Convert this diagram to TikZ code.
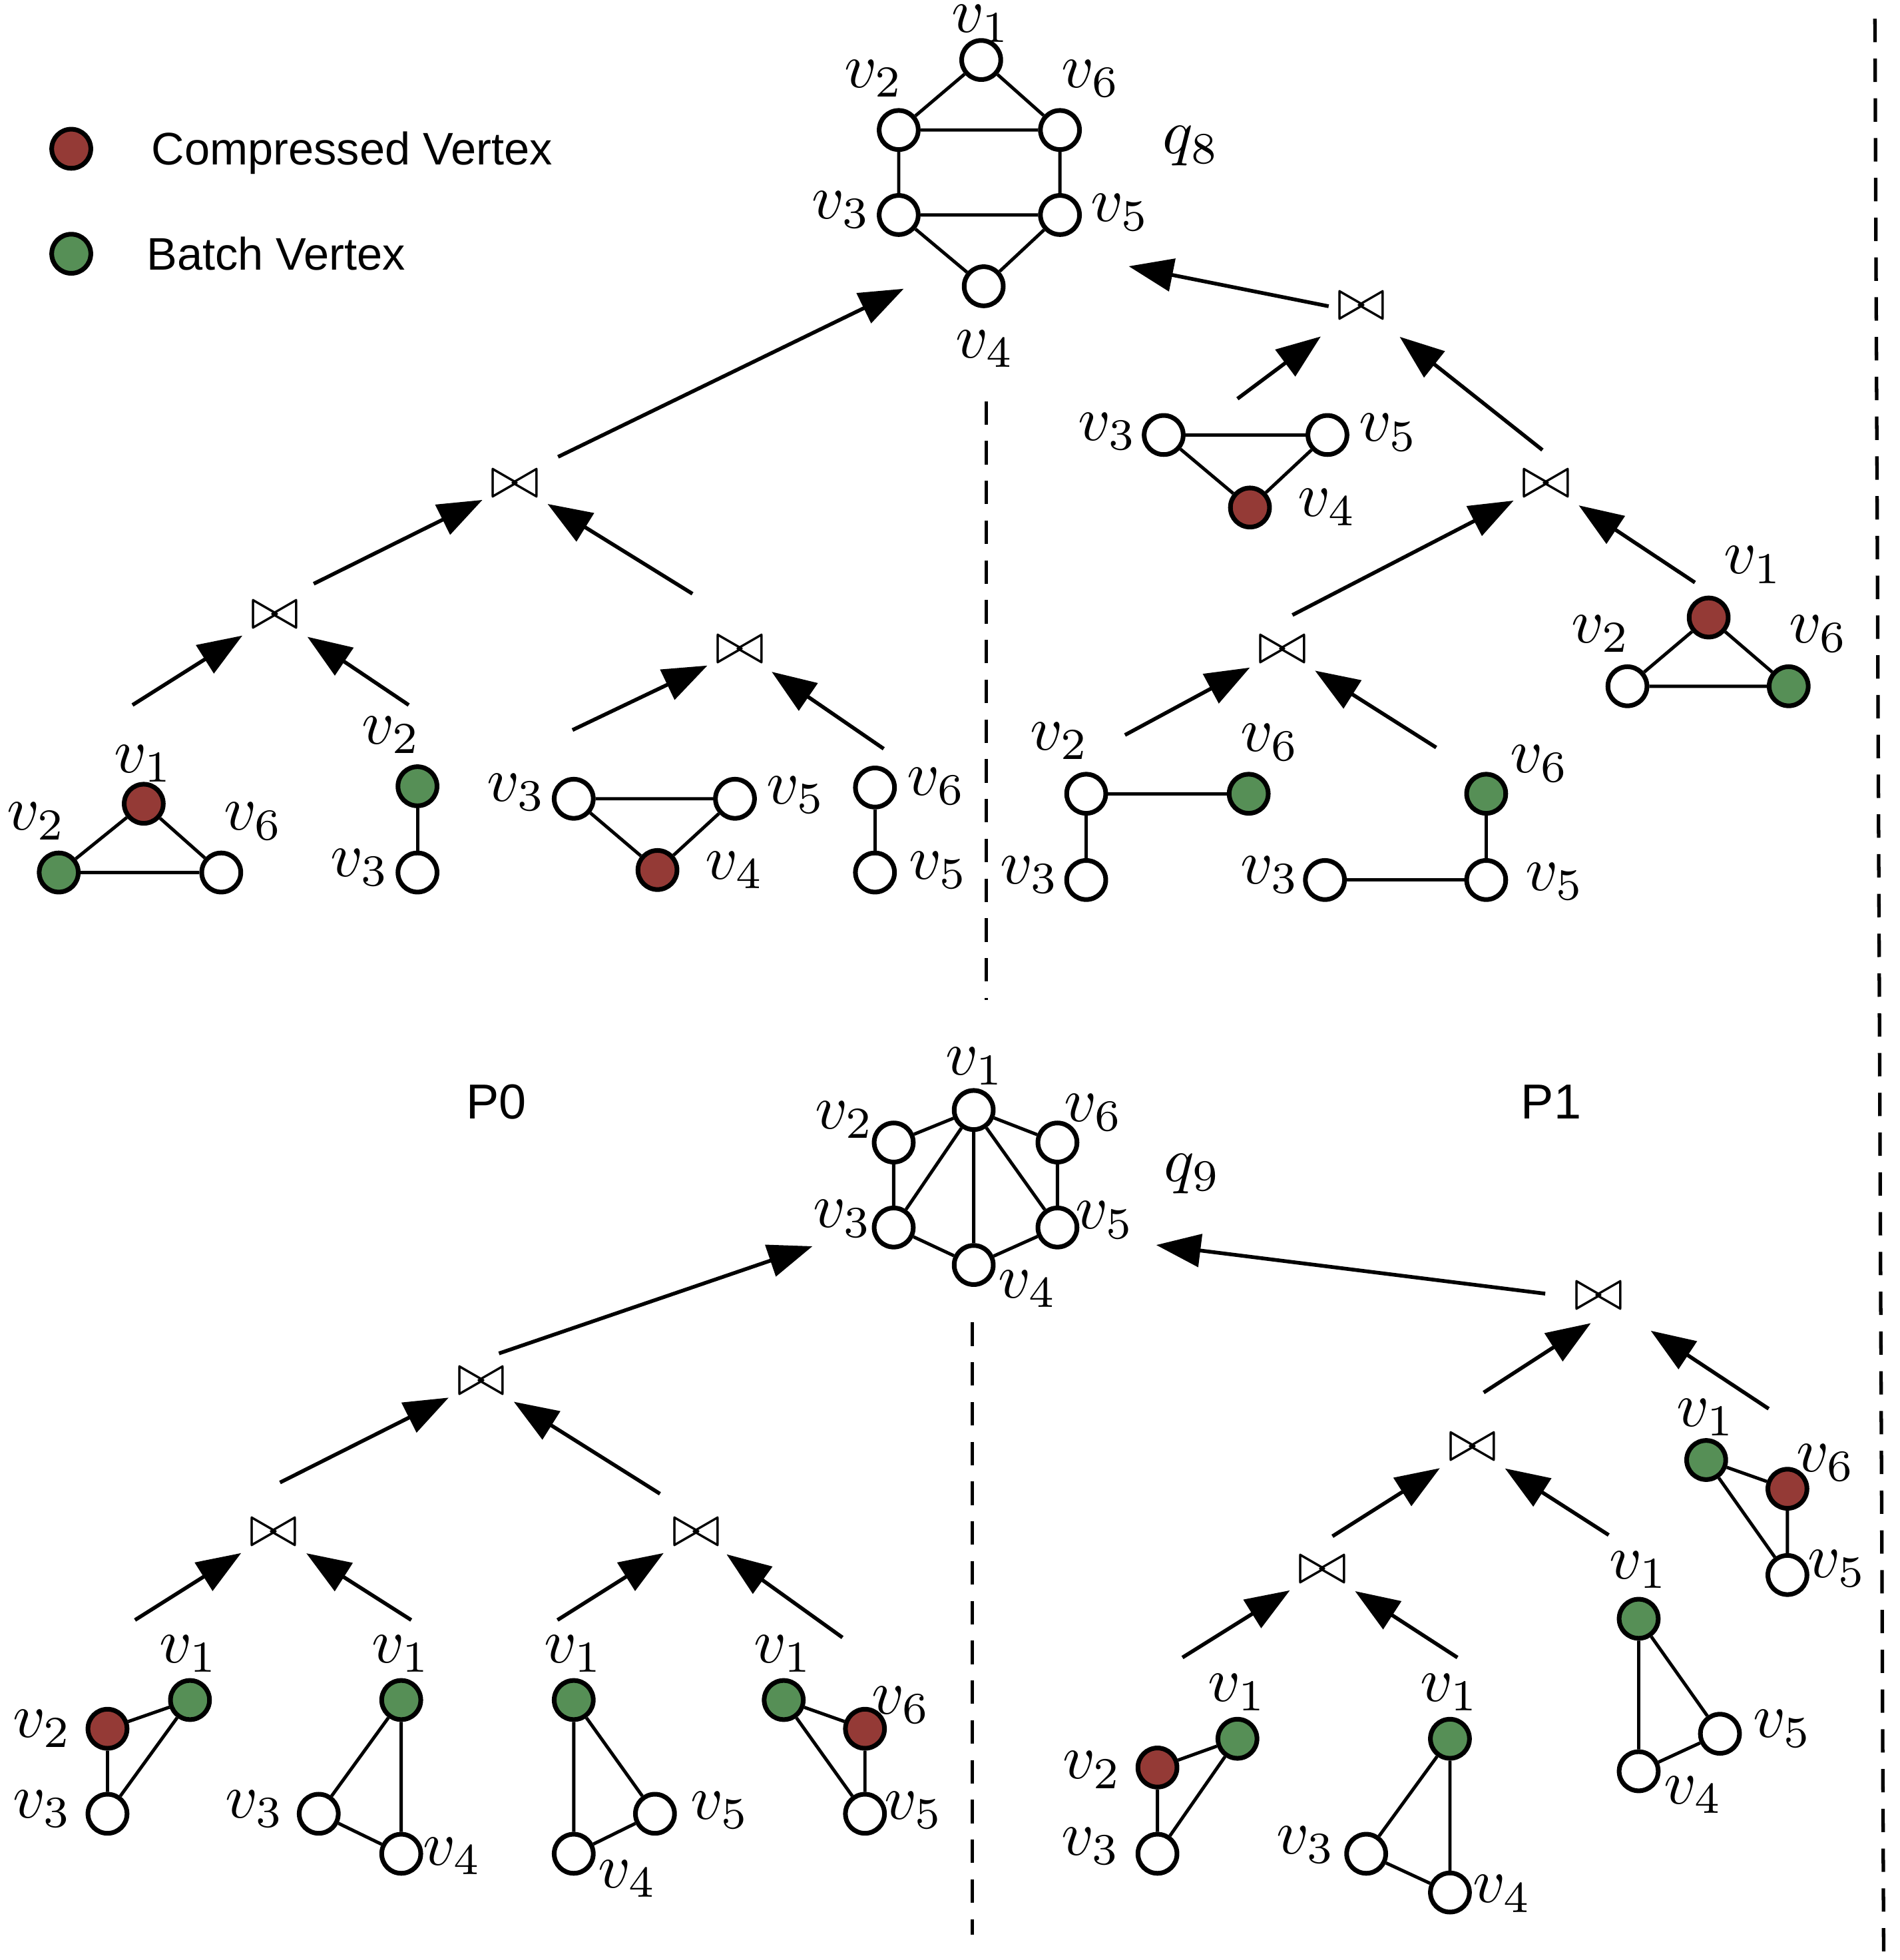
\documentclass[tikz,border=0pt]{standalone}
\usepackage[no-math]{fontspec}
\newfontfamily\legendfont{Liberation Sans}
\usetikzlibrary{arrows.meta}
\definecolor{compred}{RGB}{148,58,54}
\definecolor{batchgreen}{RGB}{86,143,86}
\tikzset{
  vtx/.style={draw, circle, line width=2pt, minimum size=16.7pt, inner sep=0pt, fill=white},
  cvtx/.style={vtx, fill=compred},
  bvtx/.style={vtx, fill=batchgreen},
  vlab/.style={scale=2.7, inner sep=0pt},
  joinop/.style={scale=2.5, inner sep=1.2pt},
  link/.style={line width=1.4pt},
  arr/.style={-{Triangle[length=19pt,width=14pt]}, line width=1.6pt},
  divider/.style={line width=1.5pt, dash pattern=on 10pt off 7pt},
  legtext/.style={font=\legendfont\fontsize{19.5}{23}\selectfont, inner sep=0pt}
}
\begin{document}
\begin{tikzpicture}[x=0.18776mm, y=-0.18776mm]
        \useasboundingbox (0,0) rectangle (1520,1568);

        % Legend
        \node[cvtx] (legcomp) at (57,119) {};
        \node[legtext, anchor=base west] (legcomptext) at (121,132) {Compressed Vertex};
        \node[bvtx] (legbatch) at (57,203) {};
        \node[legtext, anchor=base west] (legbatchtext) at (117,216) {Batch Vertex};

        % Partitions
        \node[legtext, font=\legendfont\fontsize{21}{25}\selectfont, anchor=base] (p0) at (397,895) {P0};
        \node[legtext, font=\legendfont\fontsize{21}{25}\selectfont, anchor=base] (p1) at (1241,895) {P1};
        \draw[divider] (789,321) -- (789,800);
        \draw[divider] (778,1058) -- (778,1548);
        \draw[divider] (1500,15) -- (1507,1562);

        % Query q8
        \node[vtx] (q8v1) at (785,48) {};
        \node[vtx] (q8v2) at (719,104) {};
        \node[vtx] (q8v6) at (848,104) {};
        \node[vtx] (q8v3) at (719,172) {};
        \node[vtx] (q8v5) at (848,172) {};
        \node[vtx] (q8v4) at (787,229) {};
        \node[vlab] (q8l1) at (785,19) {$v_1$};
        \node[vlab] (q8l2) at (699,63) {$v_2$};
        \node[vlab] (q8l6) at (873,63) {$v_6$};
        \node[vlab] (q8l3) at (673,168) {$v_3$};
        \node[vlab] (q8l5) at (896,170) {$v_5$};
        \node[vlab] (q8l4) at (788,279) {$v_4$};
        \node[vlab] (q8lab) at (953,117) {$q_8$};
        \draw[link] (q8v1) -- (q8v2) (q8v1) -- (q8v6) (q8v2) -- (q8v6) (q8v2) -- (q8v3)
                    (q8v6) -- (q8v5) (q8v3) -- (q8v5) (q8v3) -- (q8v4) (q8v5) -- (q8v4);
        \coordinate (q8inleft) at (723,231);
        \coordinate (q8inright) at (903,213);

        % q8, P0 subgraphs
        \node[cvtx] (g1v1) at (115,643) {};
        \node[bvtx] (g1v2) at (47,698) {};
        \node[vtx] (g1v6) at (177,698) {};
        \node[vlab] (g1l1) at (115,611) {$v_1$};
        \node[vlab] (g1l2) at (29,657) {$v_2$};
        \node[vlab] (g1l6) at (203,657) {$v_6$};
        \draw[link] (g1v1) -- (g1v2) (g1v1) -- (g1v6) (g1v2) -- (g1v6);

        \node[bvtx] (g2v2) at (334,629) {};
        \node[vtx] (g2v3) at (334,698) {};
        \node[vlab] (g2l2) at (313,588) {$v_2$};
        \node[vlab] (g2l3) at (288,694) {$v_3$};
        \draw[link] (g2v2) -- (g2v3);

        \node[vtx] (g3v3) at (459,639) {};
        \node[vtx] (g3v5) at (588,639) {};
        \node[cvtx] (g3v4) at (526,696) {};
        \node[vlab] (g3l3) at (413,634) {$v_3$};
        \node[vlab] (g3l5) at (637,636) {$v_5$};
        \node[vlab] (g3l4) at (588,696) {$v_4$};
        \draw[link] (g3v3) -- (g3v5) (g3v3) -- (g3v4) (g3v5) -- (g3v4);

        \node[vtx] (g4v6) at (700,630) {};
        \node[vtx] (g4v5) at (700,698) {};
        \node[vlab] (g4l6) at (749,629) {$v_6$};
        \node[vlab] (g4l5) at (751,696) {$v_5$};
        \draw[link] (g4v6) -- (g4v5);

        % q8, P1 subgraphs
        \node[vtx] (g5v3) at (931,348) {};
        \node[vtx] (g5v5) at (1062,348) {};
        \node[cvtx] (g5v4) at (1000,406) {};
        \node[vlab] (g5l3) at (886,345) {$v_3$};
        \node[vlab] (g5l5) at (1111,346) {$v_5$};
        \node[vlab] (g5l4) at (1062,406) {$v_4$};
        \draw[link] (g5v3) -- (g5v5) (g5v3) -- (g5v4) (g5v5) -- (g5v4);

        \node[cvtx] (g6v1) at (1367,494) {};
        \node[vtx] (g6v2) at (1302,549) {};
        \node[bvtx] (g6v6) at (1431,549) {};
        \node[vlab] (g6l1) at (1403,452) {$v_1$};
        \node[vlab] (g6l2) at (1281,507) {$v_2$};
        \node[vlab] (g6l6) at (1455,507) {$v_6$};
        \draw[link] (g6v1) -- (g6v2) (g6v1) -- (g6v6) (g6v2) -- (g6v6);

        \node[vtx] (g7v2) at (869,635) {};
        \node[bvtx] (g7v6) at (999,635) {};
        \node[vtx] (g7v3) at (869,704) {};
        \node[vlab] (g7l2) at (848,593) {$v_2$};
        \node[vlab] (g7l6) at (1016,594) {$v_6$};
        \node[vlab] (g7l3) at (824,700) {$v_3$};
        \draw[link] (g7v2) -- (g7v6) (g7v2) -- (g7v3);

        \node[bvtx] (g8v6) at (1189,635) {};
        \node[vtx] (g8v3) at (1060,704) {};
        \node[vtx] (g8v5) at (1189,704) {};
        \node[vlab] (g8l6) at (1232,611) {$v_6$};
        \node[vlab] (g8l3) at (1016,700) {$v_3$};
        \node[vlab] (g8l5) at (1244,705) {$v_5$};
        \draw[link] (g8v6) -- (g8v5) (g8v3) -- (g8v5);

        % q8 joins
        \node[joinop] (j1) at (412,387) {$\bowtie$};
        \node[joinop] (j2) at (220,492) {$\bowtie$};
        \node[joinop] (j3) at (592,520) {$\bowtie$};
        \node[joinop] (j4) at (1089,245) {$\bowtie$};
        \node[joinop] (j5) at (1237,387) {$\bowtie$};
        \node[joinop] (j6) at (1026,520) {$\bowtie$};

        \coordinate (j2up) at (251,467);
        \coordinate (j3up) at (554,475);
        \coordinate (g1up) at (106,564);
        \coordinate (g2up) at (327,564);
        \coordinate (g3up) at (458,584);
        \coordinate (g4up) at (707,599);
        \coordinate (g5up) at (990,319);
        \coordinate (j5up) at (1234,360);
        \coordinate (j6up) at (1034,492);
        \coordinate (g6up) at (1356,466);
        \coordinate (g7up) at (900,588);
        \coordinate (g8up) at (1149,598);

        \draw[arr, shorten <=5pt] (j1.north east) -- (q8inleft);
        \draw[arr] (j4.west) -- (q8inright);
        \draw[arr] (j2up) -- (j1);
        \draw[arr] (j3up) -- (j1);
        \draw[arr] (g1up) -- (j2);
        \draw[arr] (g2up) -- (j2);
        \draw[arr] (g3up) -- (j3);
        \draw[arr] (g4up) -- (j3);
        \draw[arr, shorten >=6pt] (g5up) -- (j4);
        \draw[arr, shorten >=6pt] (j5up) -- (j4);
        \draw[arr] (j6up) -- (j5);
        \draw[arr] (g6up) -- (j5);
        \draw[arr] (g7up) -- (j6);
        \draw[arr] (g8up) -- (j6);

        % Query q9
        \node[vtx] (q9v1) at (779,888) {};
        \node[vtx] (q9v2) at (715,914) {};
        \node[vtx] (q9v6) at (846,914) {};
        \node[vtx] (q9v3) at (715,982) {};
        \node[vtx] (q9v5) at (846,982) {};
        \node[vtx] (q9v4) at (779,1012) {};
        \node[vlab] (q9l1) at (780,853) {$v_1$};
        \node[vlab] (q9l2) at (676,896) {$v_2$};
        \node[vlab] (q9l6) at (875,890) {$v_6$};
        \node[vlab] (q9l3) at (674,975) {$v_3$};
        \node[vlab] (q9l5) at (884,976) {$v_5$};
        \node[vlab] (q9l4) at (822,1031) {$v_4$};
        \node[vlab] (q9lab) at (954,939) {$q_9$};
        \draw[link] (q9v1) -- (q9v2) (q9v1) -- (q9v6) (q9v2) -- (q9v3) (q9v6) -- (q9v5)
                    (q9v3) -- (q9v4) (q9v5) -- (q9v4) (q9v1) -- (q9v3) (q9v1) -- (q9v4) (q9v1) -- (q9v5);
        \coordinate (q9inleft) at (650,997);
        \coordinate (q9inright) at (925,996);

        % q9, P0 subgraphs
        \node[bvtx] (g9v1) at (152,1360) {};
        \node[cvtx] (g9v2) at (86,1383) {};
        \node[vtx] (g9v3) at (86,1451) {};
        \node[vlab] (g9l1) at (151,1323) {$v_1$};
        \node[vlab] (g9l2) at (34,1383) {$v_2$};
        \node[vlab] (g9l3) at (34,1447) {$v_3$};
        \draw[link] (g9v1) -- (g9v2) (g9v2) -- (g9v3) (g9v1) -- (g9v3);

        \node[bvtx] (g10v1) at (321,1360) {};
        \node[vtx] (g10v3) at (255,1451) {};
        \node[vtx] (g10v4) at (321,1483) {};
        \node[vlab] (g10l1) at (321,1323) {$v_1$};
        \node[vlab] (g10l3) at (204,1447) {$v_3$};
        \node[vlab] (g10l4) at (362,1485) {$v_4$};
        \draw[link] (g10v1) -- (g10v3) (g10v1) -- (g10v4) (g10v3) -- (g10v4);

        \node[bvtx] (g11v1) at (459,1360) {};
        \node[vtx] (g11v5) at (524,1451) {};
        \node[vtx] (g11v4) at (459,1483) {};
        \node[vlab] (g11l1) at (459,1323) {$v_1$};
        \node[vlab] (g11l5) at (576,1448) {$v_5$};
        \node[vlab] (g11l4) at (502,1503) {$v_4$};
        \draw[link] (g11v1) -- (g11v4) (g11v1) -- (g11v5) (g11v5) -- (g11v4);

        \node[bvtx] (g12v1) at (627,1360) {};
        \node[cvtx] (g12v6) at (692,1383) {};
        \node[vtx] (g12v5) at (692,1451) {};
        \node[vlab] (g12l1) at (627,1323) {$v_1$};
        \node[vlab] (g12l6) at (721,1364) {$v_6$};
        \node[vlab] (g12l5) at (731,1448) {$v_5$};
        \draw[link] (g12v1) -- (g12v6) (g12v6) -- (g12v5) (g12v1) -- (g12v5);

        % q9, P1 subgraphs
        \node[bvtx] (g13v1) at (990,1391) {};
        \node[cvtx] (g13v2) at (926,1414) {};
        \node[vtx] (g13v3) at (926,1483) {};
        \node[vlab] (g13l1) at (990,1354) {$v_1$};
        \node[vlab] (g13l2) at (874,1416) {$v_2$};
        \node[vlab] (g13l3) at (873,1477) {$v_3$};
        \draw[link] (g13v1) -- (g13v2) (g13v2) -- (g13v3) (g13v1) -- (g13v3);

        \node[bvtx] (g14v1) at (1160,1391) {};
        \node[vtx] (g14v3) at (1093,1483) {};
        \node[vtx] (g14v4) at (1160,1514) {};
        \node[vlab] (g14l1) at (1160,1354) {$v_1$};
        \node[vlab] (g14l3) at (1045,1476) {$v_3$};
        \node[vlab] (g14l4) at (1202,1515) {$v_4$};
        \draw[link] (g14v1) -- (g14v3) (g14v1) -- (g14v4) (g14v3) -- (g14v4);

        \node[bvtx] (g15v1) at (1311,1295) {};
        \node[vtx] (g15v5) at (1376,1387) {};
        \node[vtx] (g15v4) at (1311,1417) {};
        \node[vlab] (g15l1) at (1311,1256) {$v_1$};
        \node[vlab] (g15l5) at (1426,1383) {$v_5$};
        \node[vlab] (g15l4) at (1355,1436) {$v_4$};
        \draw[link] (g15v1) -- (g15v4) (g15v1) -- (g15v5) (g15v5) -- (g15v4);

        \node[bvtx] (g16v1) at (1365,1168) {};
        \node[cvtx] (g16v6) at (1430,1191) {};
        \node[vtx] (g16v5) at (1430,1260) {};
        \node[vlab] (g16l1) at (1365,1134) {$v_1$};
        \node[vlab] (g16l6) at (1461,1170) {$v_6$};
        \node[vlab] (g16l5) at (1470,1255) {$v_5$};
        \draw[link] (g16v1) -- (g16v6) (g16v6) -- (g16v5) (g16v1) -- (g16v5);

        % q9 joins
        \node[joinop] (j7) at (385,1105) {$\bowtie$};
        \node[joinop] (j8) at (219,1226) {$\bowtie$};
        \node[joinop] (j9) at (557,1226) {$\bowtie$};
        \node[joinop] (j10) at (1279,1037) {$\bowtie$};
        \node[joinop] (j11) at (1178,1158) {$\bowtie$};
        \node[joinop] (j12) at (1058,1256) {$\bowtie$};

        \coordinate (j8up) at (224,1186);
        \coordinate (j9up) at (528,1195);
        \coordinate (g9up) at (108,1296);
        \coordinate (g10up) at (329,1296);
        \coordinate (g11up) at (446,1296);
        \coordinate (g12up) at (674,1310);
        \coordinate (j11up) at (1187,1114);
        \coordinate (g16up) at (1415,1127);
        \coordinate (j12up) at (1066,1229);
        \coordinate (g15up) at (1287,1228);
        \coordinate (g13up) at (946,1326);
        \coordinate (g14up) at (1166,1326);

        \draw[arr, shorten <=8pt] (j7.north) -- (q9inleft);
        \draw[arr, shorten <=9pt] (j10.west) -- (q9inright);
        \draw[arr] (j8up) -- (j7);
        \draw[arr] (j9up) -- (j7);
        \draw[arr] (g9up) -- (j8);
        \draw[arr] (g10up) -- (j8);
        \draw[arr] (g11up) -- (j9);
        \draw[arr] (g12up) -- (j9);
        \draw[arr, shorten >=4pt] (j11up) -- (j10.south);
        \draw[arr, shorten >=10pt] (g16up) -- (j10);
        \draw[arr] (j12up) -- (j11);
        \draw[arr] (g15up) -- (j11);
        \draw[arr] (g13up) -- (j12);
        \draw[arr] (g14up) -- (j12);
\end{tikzpicture}
\end{document}
